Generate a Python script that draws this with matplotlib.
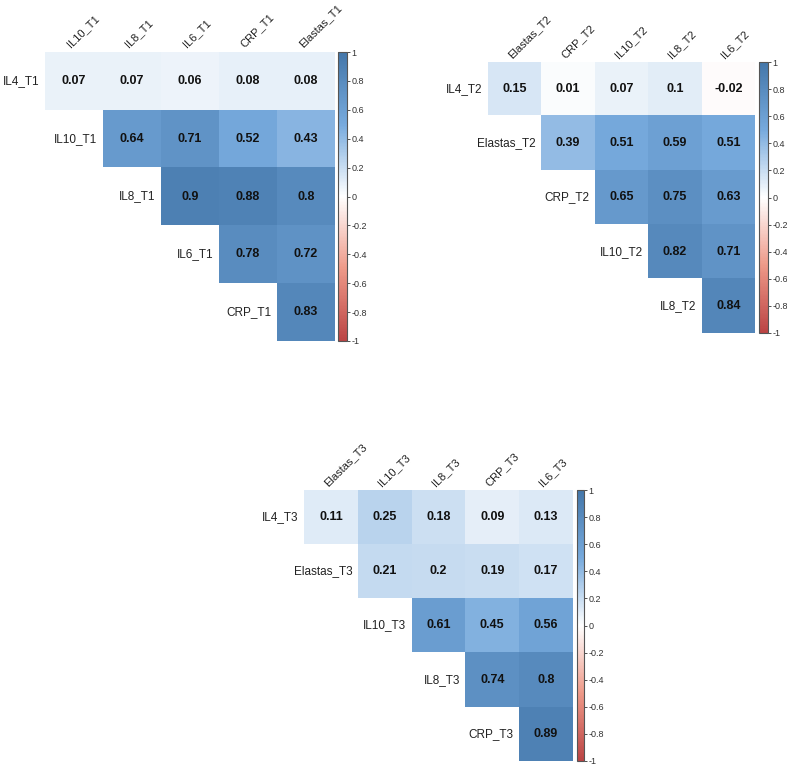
import matplotlib
matplotlib.use("Agg")
import matplotlib.pyplot as plt
import numpy as np
from matplotlib.colors import LinearSegmentedColormap, Normalize
from matplotlib.cm import ScalarMappable

plt.rcParams['font.family'] = ['Liberation Sans', 'DejaVu Sans']

# Dados (triângulo superior, sem diagonal)
rows_t1 = ["IL4_T1", "IL10_T1", "IL8_T1", "IL6_T1", "CRP_T1"]
cols_t1 = ["IL10_T1", "IL8_T1", "IL6_T1", "CRP_T1", "Elastas_T1"]
vals_t1 = [[0.07, 0.07, 0.06, 0.08, 0.08],
           [0.64, 0.71, 0.52, 0.43],
           [0.9, 0.88, 0.8],
           [0.78, 0.72],
           [0.83]]

rows_t2 = ["IL4_T2", "Elastas_T2", "CRP_T2", "IL10_T2", "IL8_T2"]
cols_t2 = ["Elastas_T2", "CRP_T2", "IL10_T2", "IL8_T2", "IL6_T2"]
vals_t2 = [[0.15, 0.01, 0.07, 0.1, -0.02],
           [0.39, 0.51, 0.59, 0.51],
           [0.65, 0.75, 0.63],
           [0.82, 0.71],
           [0.84]]

rows_t3 = ["IL4_T3", "Elastas_T3", "IL10_T3", "IL8_T3", "CRP_T3"]
cols_t3 = ["Elastas_T3", "IL10_T3", "IL8_T3", "CRP_T3", "IL6_T3"]
vals_t3 = [[0.11, 0.25, 0.18, 0.09, 0.13],
           [0.21, 0.2, 0.19, 0.17],
           [0.61, 0.45, 0.56],
           [0.74, 0.8],
           [0.89]]

cb_ticks = [-1, -0.8, -0.6, -0.4, -0.2, 0, 0.2, 0.4, 0.6, 0.8, 1]

cmap = LinearSegmentedColormap.from_list(
    "corr", ["#BB4444", "#EE9988", "#FFFFFF", "#77AADD", "#4477AA"], N=200)
norm = Normalize(vmin=-1, vmax=1)

W, H = 787, 769
fig = plt.figure(figsize=(W / 100, H / 100), dpi=100)


def px_rect(x0, y0, x1, y1):
    # pixels (topo-esquerda) -> fração da figura
    return [x0 / W, 1 - y1 / H, (x1 - x0) / W, (y1 - y0) / H]


def draw_panel(box, cbox, rows, cols, vals):
    n = len(rows)
    M = np.full((n, n), np.nan)
    for i, row in enumerate(vals):
        M[i, i:] = row
    ax = fig.add_axes(px_rect(*box))
    ax.imshow(np.ma.masked_invalid(M), cmap=cmap, norm=norm,
              extent=(0, n, n, 0), aspect='auto', interpolation='nearest')
    ax.set_xlim(0, n)
    ax.set_ylim(n, 0)
    ax.axis('off')
    for i, row in enumerate(vals):
        for k, v in enumerate(row):
            j = i + k
            ax.text(j + 0.5, i + 0.5, f"{v:g}", ha='center', va='center',
                    fontsize=9, fontweight='bold', color='#111111')
        ax.text(i - 0.1, i + 0.5, rows[i], ha='right', va='center',
                fontsize=8.5, color='#222222')
    for j, c in enumerate(cols):
        ax.text(j + 0.44, -0.07, c, rotation=45, ha='left', va='baseline',
                rotation_mode='anchor', fontsize=8, color='#222222')

    cax = fig.add_axes(px_rect(*cbox))
    cb = fig.colorbar(ScalarMappable(norm=norm, cmap=cmap), cax=cax,
                      ticks=cb_ticks)
    cb.ax.set_yticklabels([f"{t:g}" for t in cb_ticks])
    cb.outline.set_edgecolor('#555555')
    cb.outline.set_linewidth(0.8)
    cb.ax.tick_params(labelsize=6.5, length=2, width=0.6, pad=1,
                      colors='#333333')


draw_panel((45, 52, 335, 341), (338, 52, 347, 341), rows_t1, cols_t1, vals_t1)
draw_panel((488, 62, 755, 333), (759, 62, 768, 333), rows_t2, cols_t2, vals_t2)
draw_panel((304, 490, 573, 761), (577, 490, 584, 761), rows_t3, cols_t3, vals_t3)

fig.savefig("out.png", dpi=100)
